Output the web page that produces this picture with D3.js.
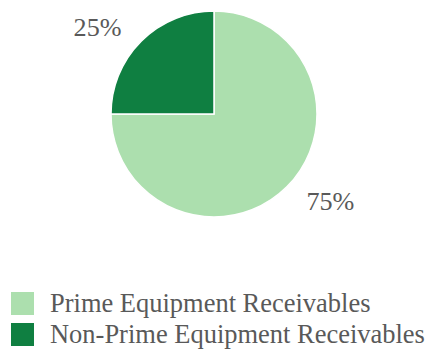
<!DOCTYPE html>
<html>
<head>
<meta charset="utf-8">
<script src="https://cdn.jsdelivr.net/npm/d3@7"></script>
<style>
  body { margin: 0; background: #fff; }
</style>
</head>
<body>
<div id="chart"></div>
<script>
const categories = ["Prime Equipment Receivables", "Non-Prime Equipment Receivables"];
const values = [75, 25];
const colors = ["#acdfae", "#0f7f41"];

const W = 431;
const H = 350;
const cx = 214, cy = 114, R = 103;
const FONT = "'Liberation Serif', 'DejaVu Serif', serif";

const svg = d3.select("#chart").append("svg")
  .attr("width", W)
  .attr("height", H);

const pie = d3.pie().sort(null).value(d => d.value);
const arcs = pie(categories.map((c, i) => ({ name: c, value: values[i] })));
const arc = d3.arc().innerRadius(0).outerRadius(R);
const labelArc = d3.arc().innerRadius(147).outerRadius(147);

const g = svg.append("g").attr("transform", `translate(${cx},${cy})`);

g.selectAll("path")
  .data(arcs)
  .enter()
  .append("path")
  .attr("d", arc)
  .attr("fill", (d, i) => colors[i])
  .attr("stroke", "#fff")
  .attr("stroke-width", 1.5);

// labels sit outside the pie, stretched a bit horizontally
const labels = g.selectAll("text.lbl")
  .data(arcs)
  .enter()
  .append("text")
  .attr("class", "lbl")
  .attr("transform", d => {
    const [x, y] = labelArc.centroid(d);
    return `translate(${x * 1.12},${y * 0.84})`;
  })
  .attr("text-anchor", "middle")
  .attr("dy", "0.35em")
  .attr("font-family", FONT)
  .attr("font-size", "26px")
  .attr("fill", "#595959")
  .text(d => d.data.value + "%");

const legend = svg.append("g").attr("transform", "translate(11,292)");
const item = legend.selectAll("g")
  .data(categories)
  .enter()
  .append("g")
  .attr("transform", (d, i) => `translate(0,${i * 31})`);

item.append("rect")
  .attr("width", 23)
  .attr("height", 23)
  .attr("fill", (d, i) => colors[i]);

const legText = item.append("text")
  .attr("x", 39)
  .attr("y", 20)
  .attr("font-family", FONT)
  .attr("font-size", "25px")
  .attr("fill", "#595959")
  .text(d => d);

// fit sizes to the reference widths whatever serif face is picked
const longW = legText.nodes()[1].getComputedTextLength();
legText.attr("font-size", (25 * 375 / longW) + "px");
const lblW = labels.nodes()[0].getComputedTextLength();
labels.attr("font-size", (26 * 48 / lblW) + "px");
</script>
</body>
</html>
